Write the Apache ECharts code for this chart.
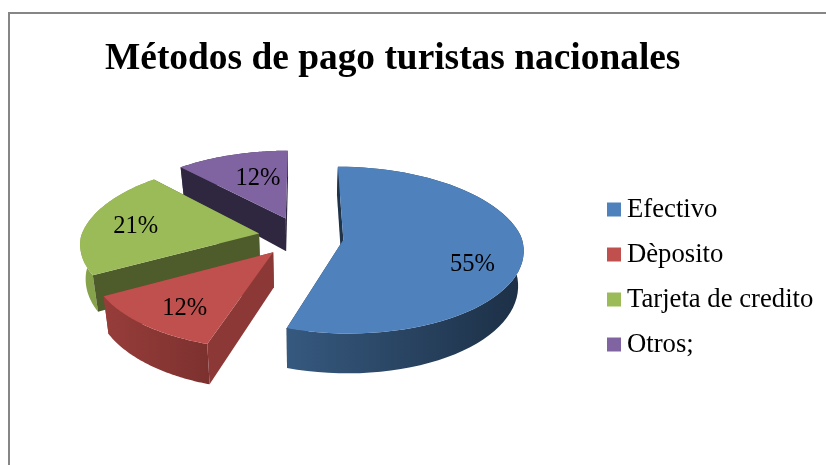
<!DOCTYPE html>
<html>
<head>
<meta charset="utf-8">
<style>html,body{margin:0;padding:0;background:#fff}#c{width:826px;height:465px}</style>
<script src="https://cdn.jsdelivr.net/npm/echarts@6/dist/echarts.min.js"></script>
</head>
<body>
<div id="c"></div>
<script>
const chartTitle = 'Métodos de pago turistas nacionales';
const categories = ['Efectivo', 'Dèposito', 'Tarjeta de credito', 'Otros;'];
const shares = [55, 12, 21, 12];

const topColors = ['#4F81BD', '#C0504D', '#9BBB59', '#8064A2'];
const wallColors = ['#1F3349', '#8C3836', '#4E5B2B', '#2F2640'];
const rimStops = [['#36597F', '#1C2F45'], ['#973D3A', '#7C312F'], ['#86A34C', '#86A34C'], ['#4B3A60', '#4B3A60']];
const seriesZ = [5, 4, 3, 2];
const labelRadius = [0.72, 0.75, 0.71, 0.56];
const labelNudge = [[0, 15], [6, 3], [-2, 2], [4, -2]];

// view of the tilted, exploded disc
const view = { cx: 301, cy: 236.5, A: 178, B: 83, kFront: 0.108, kBack: 0.15, explode: 0.24, bottomScale: 0.975 };
const total = shares.reduce((s, v) => s + v, 0);
const startShare = shares.map((_, i) => shares.slice(0, i).reduce((s, v) => s + v, 0));

function project(U, V, z) {
  const w = 1 - (V < 0 ? view.kBack : view.kFront) * V;
  const f = 1 - (1 - view.bottomScale) * z;
  return [
    view.cx + view.A * U / w * f,
    view.cy + view.B * V / w * f + z * (34 + 8 * V)
  ];
}

const chart = echarts.init(document.getElementById('c'), null, { renderer: 'canvas' });

function renderSlice(index, params, api) {
  const value = api.value(0);
  const from = startShare[index] / total * Math.PI * 2;
  const to = from + value / total * Math.PI * 2;
  const mid = (from + to) / 2;
  const u0 = Math.sin(mid) * view.explode;
  const v0 = -Math.cos(mid) * view.explode;
  const pt = (a, r, z) => project(u0 + Math.sin(a) * r, v0 - Math.cos(a) * r, z);

  const n = 64;
  const topArc = [], botArc = [];
  for (let i = 0; i <= n; i++) {
    const a = from + (to - from) * i / n;
    topArc.push(pt(a, 1, 0));
    botArc.push(pt(a, 1, 1));
  }
  const apexTop = pt(0, 0, 0), apexBot = pt(0, 0, 1);
  const wall = (a) => [pt(a, 1, 0), apexTop, apexBot, pt(a, 1, 1)];
  const lbl = pt(mid, labelRadius[index], 0);

  return {
    type: 'group',
    children: [
      { type: 'polygon', z2: 1, silent: true, shape: { points: wall(to) }, style: { fill: wallColors[index] } },
      { type: 'polygon', z2: 2, silent: true, shape: { points: topArc.concat(botArc.slice().reverse()) },
        style: { fill: { type: 'linear', x: 0, y: 0, x2: 1, y2: 0, global: false,
          colorStops: [{ offset: 0, color: rimStops[index][0] }, { offset: 1, color: rimStops[index][1] }] } } },
      { type: 'polygon', z2: 3, silent: true, shape: { points: wall(from) }, style: { fill: wallColors[index] } },
      { type: 'polygon', z2: 4, silent: true, shape: { points: [apexTop].concat(topArc) }, style: { fill: topColors[index] } },
      { type: 'text', z2: 5, silent: true, x: lbl[0] + labelNudge[index][0], y: lbl[1] + labelNudge[index][1],
        style: { text: value + '%', fill: '#000', fontSize: 24.5, fontFamily: 'Liberation Serif',
          align: 'center', verticalAlign: 'middle' } }
    ]
  };
}

chart.setOption({
  animation: false,
  backgroundColor: '#fff',
  title: {
    text: chartTitle, left: 100, top: 36,
    textStyle: { fontFamily: 'Liberation Serif', fontWeight: 'bold', fontSize: 37.4, color: '#000' }
  },
  legend: {
    data: categories, orient: 'vertical', left: 602, top: 191,
    icon: 'rect', itemWidth: 14, itemHeight: 14, itemGap: 18, selectedMode: false,
    textStyle: { fontFamily: 'Liberation Serif', fontSize: 26.7, color: '#000', padding: [0, 0, 0, 1] }
  },
  graphic: [{
    type: 'polyline', silent: true,
    shape: { points: [[9, 465], [9, 13], [826, 13]] },
    style: { stroke: '#868686', lineWidth: 2, fill: null }
  }],
  series: categories.map((name, i) => ({
    type: 'custom',
    name: name,
    coordinateSystem: 'none',
    z: seriesZ[i],
    clip: false,
    itemStyle: { color: topColors[i] },
    data: [[shares[i]]],
    renderItem: (params, api) => renderSlice(i, params, api)
  }))
});
</script>
</body>
</html>
